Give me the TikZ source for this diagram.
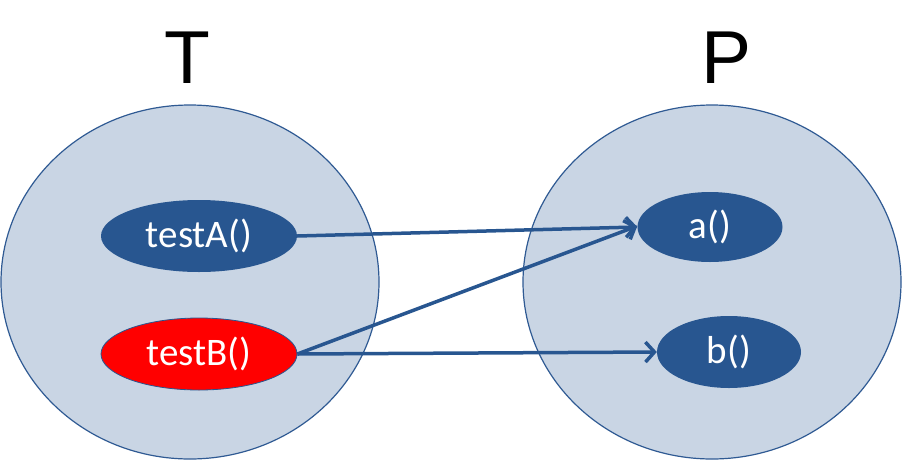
\documentclass[tikz,border=0pt]{standalone}
\usepackage{fontspec}
\setmainfont{Liberation Sans}
\newfontfamily\calib{Carlito}
\usetikzlibrary{arrows.meta,shapes.geometric}
\definecolor{lightfill}{HTML}{C9D5E4}
\definecolor{edgeblue}{HTML}{2F5A93}
\definecolor{darkblue}{HTML}{285690}
\begin{document}
\begin{tikzpicture}[x=1pt,y=-1pt,
  bigset/.style={ellipse,draw=edgeblue,fill=lightfill,line width=1.2pt,minimum width=378pt,minimum height=354pt,inner sep=0pt},
  func/.style={ellipse,fill=darkblue,text=white,font=\calib\fontsize{39}{39}\selectfont,inner sep=0pt},
  conn/.style={draw=darkblue,line width=3.5pt,-{Straight Barb[length=9pt,width=20pt,line width=3.5pt]}},
  title/.style={font=\fontsize{75}{75}\selectfont,anchor=base}]
\useasboundingbox (0,0) rectangle (902,461);
\node[bigset] (T) at (190,282) {};
\node[bigset] (P) at (712,282) {};
\node[title] (tT) at (187,83) {T};
\node[title] (tP) at (727,83) {P};
\node[func,minimum width=196pt,minimum height=72pt] (ta) at (199,236) {testA()};
\node[func,fill=red,draw=darkblue,line width=0.8pt,minimum width=196pt,minimum height=72pt] (tb) at (199,354) {testB()};
\node[func,minimum width=145pt,minimum height=70pt] (a) at (710,227) {a()};
\node[func,minimum width=144pt,minimum height=72pt] (b) at (729,352) {b()};
\draw[conn] (ta.east) -- (a.west);
\draw[conn] (tb.east) -- ([yshift=1pt]a.west);
\draw[conn] (tb.east) -- (b.west);
\end{tikzpicture}
\end{document}
